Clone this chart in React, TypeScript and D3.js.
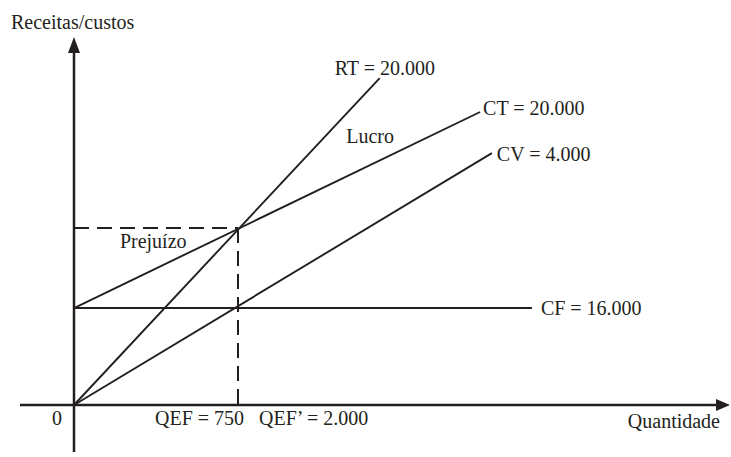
import React from "react";
import * as d3 from "d3";

// Data (abstract units)
const lineNames = ["RT", "CT", "CV", "CF"];
const lineLabels = ["RT = 20.000", "CT = 20.000", "CV = 4.000", "CF = 16.000"];
const lineStartY = [0, 27.4, 0, 27.4];
const lineEndX = [46.6, 61.9, 63.7, 69.8];
const lineEndY = [92.4, 82.8, 71.2, 27.4];
const breakEvenX = [25];
const breakEvenY = [50];
const regionLabels = ["Lucro", "Prejuízo"];
const regionX = [41.5, 7];
const regionY = [74, 44.5];
const xTickLabels = ["QEF = 750", "QEF’ = 2.000"];
const originLabel = "0";
const xAxisTitle = "Quantidade";
const yAxisTitle = "Receitas/custos";

const W = 731;
const H = 457;
const ink = "#231f20";
const font = "'Liberation Serif', 'Times New Roman', serif";
const fs = 20;

export default function App() {
  const x = d3.scaleLinear().domain([0, 100]).range([74, 730]);
  const y = d3.scaleLinear().domain([0, 104]).range([405, 37]);
  const line = d3
    .line<[number, number]>()
    .x((d) => x(d[0]))
    .y((d) => y(d[1]));

  const labelOffsets: [number, number][] = [
    [-45, -3],
    [3, 3],
    [5, 8],
    [9, 7],
  ];

  const x0 = x(0);
  const y0 = y(0);
  const yTop = 37;
  const xRight = 730;

  return (
    <svg
      width={W}
      height={H}
      style={{ position: "absolute", left: 0, top: 0, background: "#fff" }}
    >
      <rect width={W} height={H} fill="#fff" />
      {/* axes */}
      <line x1={20} y1={y0} x2={xRight - 8} y2={y0} stroke={ink} strokeWidth={2.5} />
      <path d={`M${xRight},${y0} L${xRight - 14},${y0 - 6} L${xRight - 14},${y0 + 6} Z`} fill={ink} />
      <line x1={x0} y1={452} x2={x0} y2={yTop + 10} stroke={ink} strokeWidth={2.5} />
      <path d={`M${x0},${yTop} L${x0 - 6},${yTop + 16} L${x0 + 6},${yTop + 16} Z`} fill={ink} />

      {/* dashed guides */}
      <line
        x1={x0}
        y1={y(breakEvenY[0])}
        x2={x(breakEvenX[0])}
        y2={y(breakEvenY[0])}
        stroke={ink}
        strokeWidth={2}
        strokeDasharray="15 8"
      />
      <line
        x1={x(breakEvenX[0])}
        y1={y(breakEvenY[0])}
        x2={x(breakEvenX[0])}
        y2={y0}
        stroke={ink}
        strokeWidth={2}
        strokeDasharray="15 8"
      />

      {/* lines */}
      {lineNames.map((n, i) => (
        <path
          key={n}
          d={line([
            [0, lineStartY[i]],
            [lineEndX[i], lineEndY[i]],
          ]) as string}
          fill="none"
          stroke={ink}
          strokeWidth={1.9}
        />
      ))}

      {/* line labels */}
      {lineLabels.map((t, i) => (
        <text
          key={t}
          x={x(lineEndX[i]) + labelOffsets[i][0]}
          y={y(lineEndY[i]) + labelOffsets[i][1]}
          fontFamily={font}
          fontSize={fs}
          fill={ink}
        >
          {t}
        </text>
      ))}

      {/* region labels */}
      {regionLabels.map((t, i) => (
        <text key={t} x={x(regionX[i])} y={y(regionY[i])} fontFamily={font} fontSize={fs} fill={ink}>
          {t}
        </text>
      ))}

      {/* tick labels */}
      <text x={62} y={425} textAnchor="end" fontFamily={font} fontSize={fs} fill={ink}>
        {originLabel}
      </text>
      <text x={155} y={425} fontFamily={font} fontSize={fs} fill={ink}>
        {xTickLabels[0]}
      </text>
      <text x={259} y={425} fontFamily={font} fontSize={fs} fill={ink}>
        {xTickLabels[1]}
      </text>
      <text x={720} y={428} textAnchor="end" fontFamily={font} fontSize={fs} fill={ink}>
        {xAxisTitle}
      </text>
      <text x={11} y={29} fontFamily={font} fontSize={fs} fill={ink}>
        {yAxisTitle}
      </text>
    </svg>
  );
}
